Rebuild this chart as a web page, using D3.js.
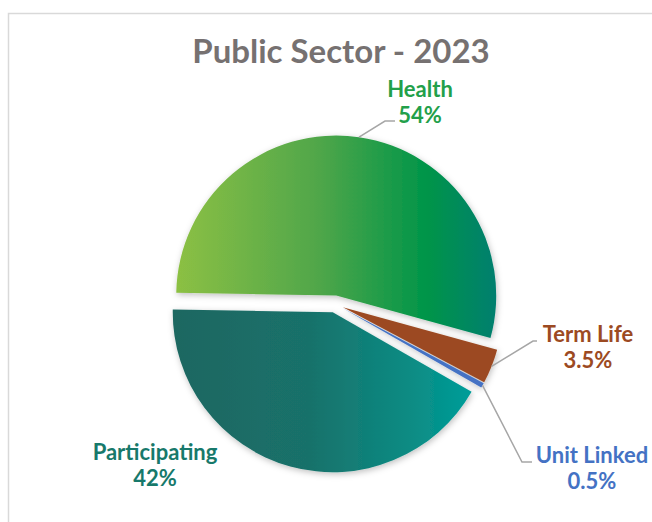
<!DOCTYPE html>
<html>
<head>
<meta charset="utf-8">
<script src="https://cdn.jsdelivr.net/npm/d3@7/dist/d3.min.js"></script>
<style>
  html, body { margin: 0; padding: 0; background: #ffffff; }
  svg { display: block; }
  text { font-family: Lato, "Open Sans", sans-serif; font-weight: 700; }
</style>
</head>
<body>
<svg id="chart" width="652" height="522"></svg>
<script>
// Product mix of the public sector in 2023
const categories  = ["Health", "Term Life", "Unit Linked", "Participating"];
const shares      = [54, 3.5, 0.5, 42];
const shareLabels = ["54%", "3.5%", "0.5%", "42%"];
const titleText   = "Public Sector - 2023";

// Styling
const labelColors = ["#22a04a", "#9c4a22", "#4472c4", "#17796b"];
const W = 652, H = 522;
const cx = 335, cy = 304, R = 160, explode = 8.5;
const firstSliceDeg = -89;

// Where each label sits (first line baseline centre) and how its leader bends
const labelLayout = [
  { x: 420, y: 97,  leader: [[385, 121], [395, 121]] },
  { x: 588, y: 342, leader: [[533, 341], [537, 341]] },
  { x: 592, y: 463, leader: [[522, 462], [532, 462]] },
  { x: 155, y: 460, leader: null }
];

const svg = d3.select("#chart");
const defs = svg.append("defs");

// Horizontal gradient fills for the two large slices
const gradSpecs = {
  "grad-0": [[0, "#8cc043"], [0.45, "#4fa64a"], [0.78, "#009548"], [1, "#007f6f"]],
  "grad-3": [[0, "#1c6761"], [0.45, "#19716a"], [0.8, "#0a8c84"], [1, "#009d99"]]
};
Object.entries(gradSpecs).forEach(([id, stops]) => {
  const g = defs.append("linearGradient").attr("id", id)
    .attr("x1", "0%").attr("y1", "0%").attr("x2", "100%").attr("y2", "0%");
  stops.forEach(([o, c]) => g.append("stop").attr("offset", o).attr("stop-color", c));
});
const fills = ["url(#grad-0)", "#9c4a22", "#4472c4", "url(#grad-3)"];

// Soft shadow under the slices
const shadow = defs.append("filter").attr("id", "soft-shadow")
  .attr("x", "-20%").attr("y", "-20%").attr("width", "140%").attr("height", "140%");
shadow.append("feDropShadow")
  .attr("dx", 1).attr("dy", 2).attr("stdDeviation", 3)
  .attr("flood-color", "#000").attr("flood-opacity", 0.25);

// Chart frame
svg.append("rect")
  .attr("x", 8.5).attr("y", 13.5)
  .attr("width", W + 20).attr("height", H + 20)
  .attr("fill", "none").attr("stroke", "#d9d9d9").attr("stroke-width", 1.5);

// Title
svg.append("text")
  .attr("x", 341).attr("y", 63)
  .attr("text-anchor", "middle")
  .attr("font-size", 33)
  .attr("fill", "#767171")
  .text(titleText);

// Pie
const start = firstSliceDeg * Math.PI / 180;
const pie = d3.pie().sort(null).value(d => d)
  .startAngle(start).endAngle(start + 2 * Math.PI);
const arcs = pie(shares);
const arcGen = d3.arc().innerRadius(0).outerRadius(R);

const offsetOf = a => {
  const m = (a.startAngle + a.endAngle) / 2;
  return [Math.sin(m) * explode, -Math.cos(m) * explode];
};

const slices = svg.append("g")
  .attr("transform", `translate(${cx},${cy})`)
  .attr("filter", "url(#soft-shadow)");

slices.selectAll("path")
  .data(arcs)
  .join("path")
  .attr("transform", d => { const [dx, dy] = offsetOf(d); return `translate(${dx},${dy})`; })
  .attr("d", arcGen)
  .attr("fill", (d, i) => fills[i]);

// Leader lines from the slice rim to its label
const leaders = svg.append("g")
  .attr("fill", "none").attr("stroke", "#a6a6a6").attr("stroke-width", 1.5);
arcs.forEach((a, i) => {
  const lay = labelLayout[i];
  if (!lay.leader) return;
  const m = (a.startAngle + a.endAngle) / 2;
  const [dx, dy] = offsetOf(a);
  const p0 = [cx + dx + Math.sin(m) * R, cy + dy - Math.cos(m) * R];
  leaders.append("path").attr("d", d3.line()([p0, ...lay.leader]));
});

// Category and share labels
const labels = svg.append("g").attr("text-anchor", "middle").attr("font-size", 22);
categories.forEach((name, i) => {
  const lay = labelLayout[i];
  const t = labels.append("text").attr("fill", labelColors[i]);
  t.append("tspan").attr("x", lay.x).attr("y", lay.y).text(name);
  t.append("tspan").attr("x", lay.x).attr("y", lay.y + 26).text(shareLabels[i]);
});
</script>
</body>
</html>
